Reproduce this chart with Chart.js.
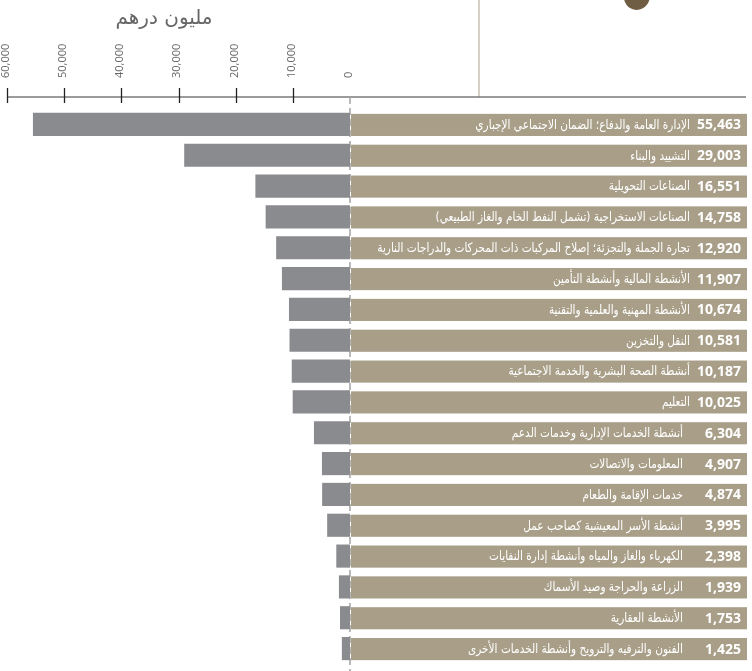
<!DOCTYPE html>
<html>
<head>
<meta charset="utf-8">
<script src="https://cdn.jsdelivr.net/npm/chart.js@4.4.1/dist/chart.umd.min.js"></script>
<style>
  html, body { margin: 0; padding: 0; background: #fff; }
  #wrap { width: 752px; height: 671px; position: relative; }
</style>
</head>
<body>
<div id="wrap"><canvas id="chart"></canvas></div>
<script>
const categories = [
  "الإدارة العامة والدفاع؛ الضمان الاجتماعي الإجباري",
  "التشييد والبناء",
  "الصناعات التحويلية",
  "الصناعات الاستخراجية (تشمل النفط الخام والغاز الطبيعي)",
  "تجارة الجملة والتجزئة؛ إصلاح المركبات ذات المحركات والدراجات النارية",
  "الأنشطة المالية وأنشطة التأمين",
  "الأنشطة المهنية والعلمية والتقنية",
  "النقل والتخزين",
  "أنشطة الصحة البشرية والخدمة الاجتماعية",
  "التعليم",
  "أنشطة الخدمات الإدارية وخدمات الدعم",
  "المعلومات والاتصالات",
  "خدمات الإقامة والطعام",
  "أنشطة الأسر المعيشية كصاحب عمل",
  "الكهرباء والغاز والمياه وأنشطة إدارة النفايات",
  "الزراعة والحراجة وصيد الأسماك",
  "الأنشطة العقارية",
  "الفنون والترفيه والترويح وأنشطة الخدمات الأخرى"
];
const values = [55463, 29003, 16551, 14758, 12920, 11907, 10674, 10581, 10187,
                10025, 6304, 4907, 4874, 3995, 2398, 1939, 1753, 1425];
const axisMax = 60000;
const axisStep = 10000;
const unitTitle = "مليون درهم";

const fmt = v => v.toLocaleString("en-US");

// axis line, tick marks, zero line, title, decorations
const decorPlugin = {
  id: "decor",
  beforeDatasetsDraw(chart) {
    const ctx = chart.ctx;
    const xs = chart.scales.x;
    const axisY = chart.chartArea.top - 12;
    ctx.save();
    // vertical decorative line top right
    ctx.strokeStyle = "#c9c0b3";
    ctx.lineWidth = 1.5;
    ctx.beginPath();
    ctx.moveTo(479, 0);
    ctx.lineTo(479, axisY);
    ctx.stroke();
    // brown blob cut off at top
    ctx.fillStyle = "#6f5e44";
    ctx.beginPath();
    ctx.ellipse(637, -4, 13, 14, 0.3, 0, Math.PI * 2);
    ctx.fill();
    // axis line
    ctx.strokeStyle = "#7a7a7a";
    ctx.lineWidth = 1.5;
    ctx.beginPath();
    ctx.moveTo(xs.left, axisY);
    ctx.lineTo(chart.width - 6, axisY);
    ctx.stroke();
    // tick marks
    ctx.strokeStyle = "#222";
    ctx.lineWidth = 1.3;
    xs.ticks.forEach(t => {
      if (t.value === 0) return;
      const px = Math.round(xs.getPixelForValue(t.value)) + 0.5;
      ctx.beginPath();
      ctx.moveTo(px, axisY - 9);
      ctx.lineTo(px, axisY + 6);
      ctx.stroke();
    });
    // dashed zero line
    const x0 = xs.getPixelForValue(0);
    ctx.strokeStyle = "#a8a8ab";
    ctx.lineWidth = 1.6;
    ctx.setLineDash([7, 4]);
    ctx.beginPath();
    ctx.moveTo(x0, axisY);
    ctx.lineTo(x0, chart.height);
    ctx.stroke();
    ctx.setLineDash([]);
    // unit title
    ctx.fillStyle = "#666";
    ctx.font = "20px 'DejaVu Sans'";
    ctx.textAlign = "center";
    ctx.textBaseline = "middle";
    ctx.direction = "rtl";
    ctx.fillText(unitTitle, 164, 19);
    ctx.restore();
  },
  afterDatasetsDraw(chart) {
    const ctx = chart.ctx;
    const xs = chart.scales.x;
    const x0 = xs.getPixelForValue(0) + 1;
    const right = chart.width - 5;
    const meta = chart.getDatasetMeta(0);
    ctx.save();
    meta.data.forEach((bar, i) => {
      const h = bar.height;
      const top = bar.y - h / 2 + 1;
      ctx.fillStyle = "#a99f89";
      ctx.fillRect(x0, top, right - x0, h - 1);
      const cy = top + (h - 1) / 2 + 0.5;
      // value
      ctx.fillStyle = "#fff";
      ctx.textBaseline = "middle";
      ctx.direction = "ltr";
      ctx.textAlign = "right";
      ctx.font = "bold 14px 'Open Sans'";
      const vText = fmt(values[i]);
      ctx.fillText(vText, right - 6, cy);
      const vw = ctx.measureText(vText).width;
      // category name
      ctx.direction = "rtl";
      ctx.font = "13px 'DejaVu Sans'";
      const lx = values[i] >= 10000 ? right - 6 - vw - 7 : 683;
      const natural = ctx.measureText(categories[i]).width;
      ctx.fillText(categories[i], lx, cy, natural * 0.81);
    });
    ctx.restore();
  }
};

new Chart(document.getElementById("chart"), {
  type: "bar",
  data: {
    labels: categories,
    datasets: [{
      data: values,
      backgroundColor: "#8a8b8f",
      borderWidth: 0,
      barPercentage: 0.75,
      categoryPercentage: 1
    }]
  },
  options: {
    indexAxis: "y",
    responsive: true,
    maintainAspectRatio: false,
    animation: false,
    layout: { padding: { left: 7, right: 402, top: 39, bottom: 7 } },
    plugins: {
      legend: { display: false },
      tooltip: { enabled: false }
    },
    scales: {
      x: {
        position: "top",
        reverse: true,
        min: 0,
        max: axisMax,
        afterFit(s) { s.height = 70; s.paddingLeft = 0; s.paddingRight = 0; },
        grid: { display: false, drawTicks: false },
        border: { display: false },
        ticks: {
          stepSize: axisStep,
          autoSkip: false,
          minRotation: 90,
          maxRotation: 90,
          padding: 31,
          labelOffset: 12,
          color: "#666",
          font: { family: "'Open Sans'", size: 11 },
          callback: v => fmt(v)
        }
      },
      y: {
        display: false,
        grid: { display: false }
      }
    }
  },
  plugins: [decorPlugin]
});
</script>
</body>
</html>
